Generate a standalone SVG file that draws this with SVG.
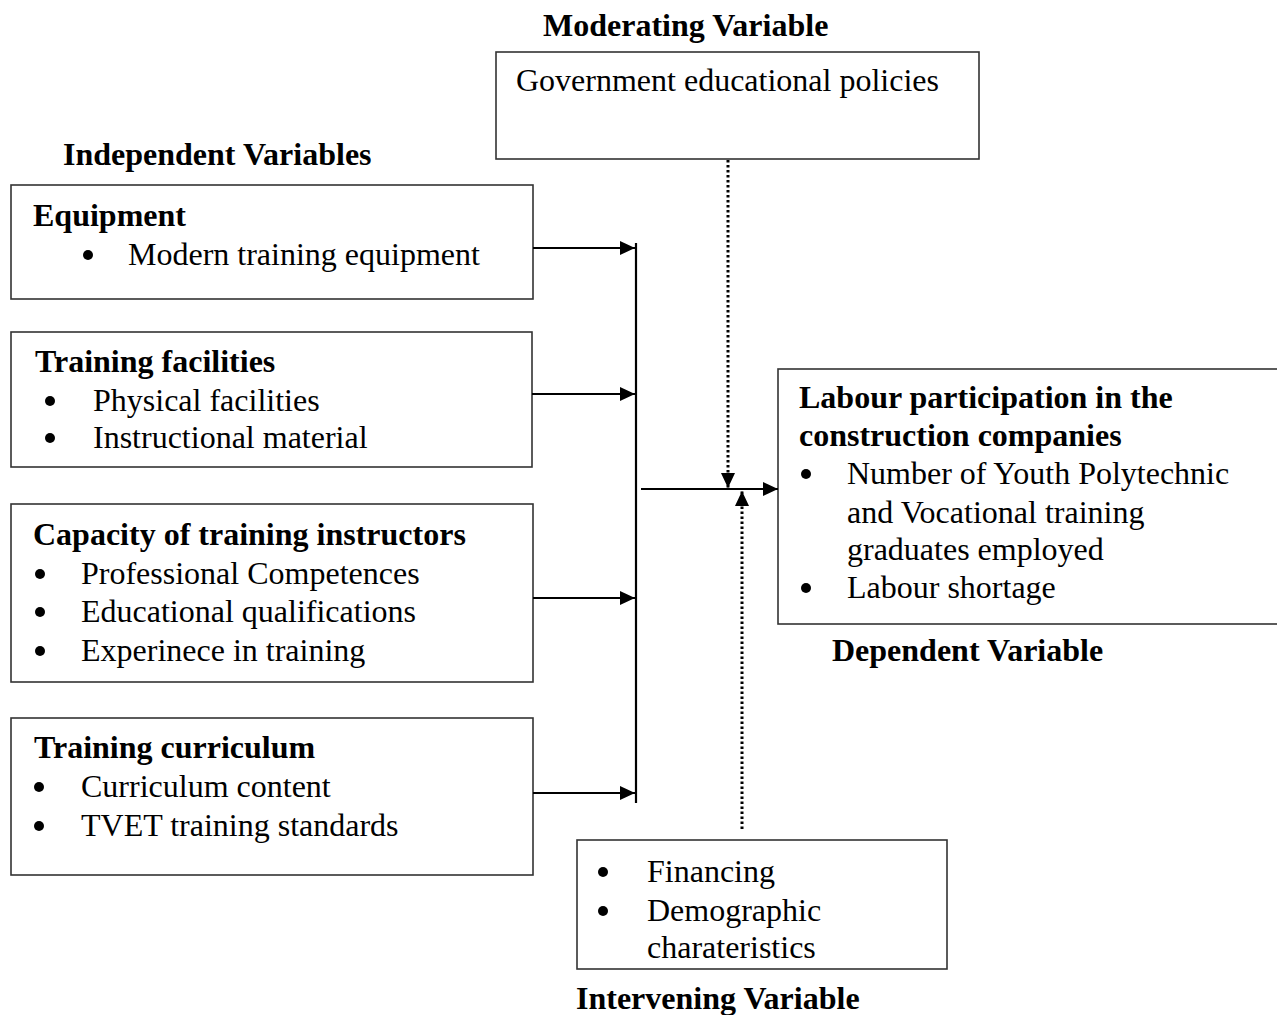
<svg xmlns="http://www.w3.org/2000/svg" width="1277" height="1015" viewBox="0 0 1277 1015">
<style>
  text { font-family: "Liberation Serif", "Times New Roman", serif; font-size: 32px; fill: #000; }
  .b { font-weight: bold; }
  .box { fill: #fff; stroke: #333; stroke-width: 1.6; }
  .bul { fill: #000; }
  .line { stroke: #000; stroke-width: 2.2; fill: none; }
  .dot { stroke: #000; stroke-width: 3; fill: none; stroke-dasharray: 2.5 2.5; }
</style>
<defs>
  <marker id="ah" markerUnits="userSpaceOnUse" markerWidth="16" markerHeight="15" refX="15" refY="7" orient="auto">
    <path d="M0,0 L15,7 L0,14 z" fill="#000"/>
  </marker>
</defs>
<rect width="1277" height="1015" fill="#fff"/>

<text class="b" x="543" y="36">Moderating Variable</text>
<text class="b" x="63" y="165">Independent Variables</text>
<text class="b" x="832" y="661">Dependent Variable</text>
<text class="b" x="576" y="1009">Intervening Variable</text>

<g id="moderating">
  <rect class="box" x="496" y="52" width="483" height="107"/>
  <text x="516" y="91">Government educational policies</text>
</g>

<g id="equipment">
  <rect class="box" x="11" y="185" width="522" height="114"/>
  <text class="b" x="33" y="226">Equipment</text>
  <circle class="bul" cx="88" cy="255" r="5"/>
  <text x="128" y="265">Modern training equipment</text>
</g>

<g id="training-facilities">
  <rect class="box" x="11" y="332" width="521" height="135"/>
  <text class="b" x="35" y="372">Training facilities</text>
  <circle class="bul" cx="50" cy="401" r="5"/>
  <text x="93" y="411">Physical facilities</text>
  <circle class="bul" cx="50" cy="438" r="5"/>
  <text x="93" y="448">Instructional material</text>
</g>

<g id="capacity">
  <rect class="box" x="11" y="504" width="522" height="178"/>
  <text class="b" x="33" y="545">Capacity of training instructors</text>
  <circle class="bul" cx="40" cy="574" r="5"/>
  <text x="81" y="584">Professional Competences</text>
  <circle class="bul" cx="40" cy="612" r="5"/>
  <text x="81" y="622">Educational qualifications</text>
  <circle class="bul" cx="40" cy="651" r="5"/>
  <text x="81" y="661">Experinece in training</text>
</g>

<g id="curriculum">
  <rect class="box" x="11" y="718" width="522" height="157"/>
  <text class="b" x="34" y="758">Training curriculum</text>
  <circle class="bul" cx="39" cy="787" r="5"/>
  <text x="81" y="797">Curriculum content</text>
  <circle class="bul" cx="39" cy="826" r="5"/>
  <text x="81" y="836">TVET training standards</text>
</g>

<g id="dependent">
  <rect class="box" x="778" y="369" width="520" height="255"/>
  <text class="b" x="799" y="408">Labour participation in the</text>
  <text class="b" x="799" y="446">construction companies</text>
  <circle class="bul" cx="806" cy="474" r="5"/>
  <text x="847" y="484">Number of Youth Polytechnic</text>
  <text x="847" y="523">and Vocational training</text>
  <text x="847" y="560">graduates employed</text>
  <circle class="bul" cx="806" cy="588" r="5"/>
  <text x="847" y="598">Labour shortage</text>
</g>

<g id="intervening">
  <rect class="box" x="577" y="840" width="370" height="129"/>
  <circle class="bul" cx="603" cy="872" r="5"/>
  <text x="647" y="882">Financing</text>
  <circle class="bul" cx="603" cy="911" r="5"/>
  <text x="647" y="921">Demographic</text>
  <text x="647" y="958">charateristics</text>
</g>

<g id="connectors">
  <line class="line" x1="533" y1="248" x2="635" y2="248" marker-end="url(#ah)"/>
  <line class="line" x1="532" y1="394" x2="635" y2="394" marker-end="url(#ah)"/>
  <line class="line" x1="533" y1="598" x2="635" y2="598" marker-end="url(#ah)"/>
  <line class="line" x1="533" y1="793" x2="635" y2="793" marker-end="url(#ah)"/>
  <line class="line" x1="636" y1="243" x2="636" y2="803"/>
  <line class="line" x1="641" y1="489" x2="778" y2="489" marker-end="url(#ah)"/>
  <line class="dot" x1="728" y1="160" x2="728" y2="488" marker-end="url(#ah)"/>
  <line class="dot" x1="742" y1="829" x2="742" y2="491" marker-end="url(#ah)"/>
</g>
</svg>
